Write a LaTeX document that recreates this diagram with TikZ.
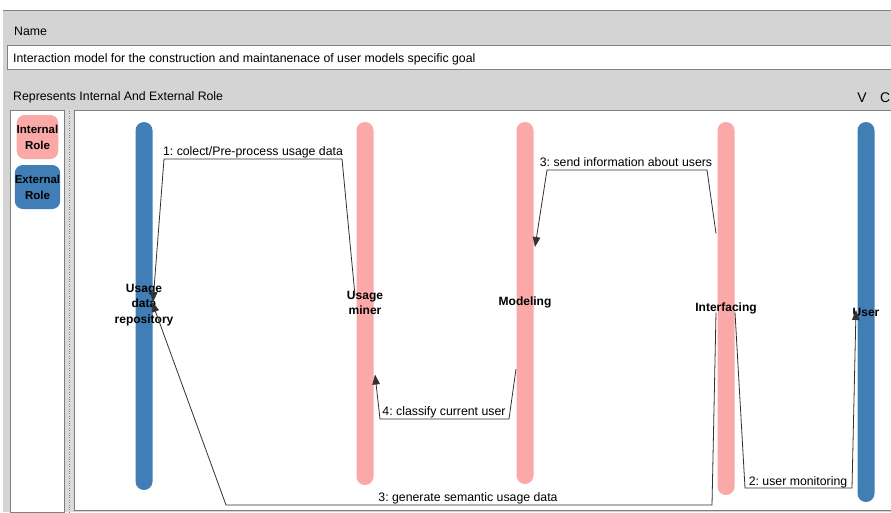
\documentclass[tikz,border=0pt]{standalone}
\usepackage{fontspec}
\setmainfont{Liberation Sans}
\usetikzlibrary{arrows.meta,calc}
\frenchspacing
\definecolor{panelgray}{RGB}{212,212,212}
\definecolor{framegray}{RGB}{128,128,128}
\definecolor{laneblue}{RGB}{64,126,181}
\definecolor{lanepink}{RGB}{250,168,168}
\definecolor{wiregray}{RGB}{50,50,50}
\tikzset{
  lane/.style={rectangle, rounded corners=8.5pt, minimum width=17pt, inner sep=0pt, draw=none},
  intlane/.style={lane, fill=lanepink},
  extlane/.style={lane, fill=laneblue},
  lanelabel/.style={font=\fontsize{12}{15.5}\selectfont\bfseries, align=center, inner sep=0pt, text=black},
  msg/.style={draw=wiregray, line width=0.8pt},
  msgarrow/.style={msg, -{Triangle[length=10pt,width=7.5pt]}, shorten >=0pt},
  msglabel/.style={font=\fontsize{12.3}{14}\selectfont, inner sep=0pt, anchor=base},
  hdr/.style={font=\fontsize{12.3}{14}\selectfont, inner sep=0pt, anchor=base west},
  legendbox/.style={rectangle, rounded corners=8pt, minimum width=41pt, minimum height=44pt, inner sep=0pt, font=\fontsize{11.5}{16}\selectfont\bfseries, align=center}
}
\begin{document}
\begin{tikzpicture}[x=1pt,y=-1pt]
\useasboundingbox (0,0) rectangle (891,512);
% background panel
\fill[white] (0,0) rectangle (891,512);
\fill[panelgray] (3,10) rectangle (891,512);
\draw[framegray, line width=1pt] (3,10) -- (891,10);
% name field
\node[hdr] (namelbl) at (14,35) {Name};
\draw[framegray, fill=white, line width=0.8pt] (7,45) rectangle (895,69);
\node[hdr] (namefield) at (13,62) {Interaction model for the construction and maintanenace of user models specific goal};
\node[hdr] (rolelbl) at (13,100) {Represents Internal And External Role};
\node[font=\fontsize{14}{16}\selectfont, anchor=base, inner sep=0pt] (vlbl) at (862,102) {V};
\node[font=\fontsize{14}{16}\selectfont, anchor=base west, inner sep=0pt] (clbl) at (880,102) {C};
% legend panel
\draw[framegray, fill=white, line width=0.8pt] (10,110) rectangle (64,512);
\fill[panelgray!85!white] (66,110) rectangle (73,512);
\draw[gray, line width=1pt, dash pattern=on 0.8pt off 1.6pt] (69.5,111) -- (69.5,512);
\node[legendbox, fill=lanepink] (intleg) at (37.5,137) {Internal\\Role};
\node[legendbox, fill=laneblue] (extleg) at (37.5,187) {External\\Role};
% main canvas
\draw[framegray, fill=white, line width=0.8pt] (74,110) rectangle (895,510);
% lanes
\node[extlane, minimum height=368pt] (repo) at (144,306) {};
\node[intlane, minimum height=363pt] (miner) at (365,303.5) {};
\node[intlane, minimum height=362pt] (model) at (525,303) {};
\node[intlane, minimum height=373pt] (iface) at (726,308.5) {};
\node[extlane, minimum height=380pt] (user) at (866,312) {};
% lane labels
\node[lanelabel] (repolbl) at (144,305) {Usage\\data\\repository};
\node[lanelabel] (minerlbl) at (365,303) {Usage\\miner};
\node[lanelabel] (modellbl) at (525,302) {Modeling};
\node[lanelabel] (ifacelbl) at (726,308) {Interfacing};
\node[lanelabel] (userlbl) at (866,312) {User};
% connector end points
\coordinate (m1s) at ($(miner.center)+(-10,-8)$);
\coordinate (m1e) at ($(repo.center)+(9,-4)$);
\coordinate (m3s) at ($(iface.center)+(-10,-75)$);
\coordinate (m3e) at ($(model.center)+(10,-56)$);
\coordinate (m4s) at ($(model.center)+(-9,66)$);
\coordinate (m4e) at ($(miner.center)+(10,71)$);
\coordinate (mgs) at ($(iface.center)+(-10,4)$);
\coordinate (mge) at ($(repo.center)+(8,-4)$);
\coordinate (m2s) at ($(iface.center)+(9,4)$);
\coordinate (m2e) at ($(user.center)+(-10,-2)$);
% connectors
\draw[msgarrow] (m1s) -- (342,159) -- (164,159) -- (m1e);
\node[msglabel] (l1) at (253,155) {1: colect/Pre-process usage data};
\draw[msgarrow] (m3s) -- (707,170) -- (547,170) -- (m3e);
\node[msglabel] (l3) at (626,166) {3: send information about users};
\draw[msgarrow] (m4s) -- (509,419) -- (380,419) -- (m4e);
\node[msglabel] (l4) at (444,415) {4: classify current user};
\draw[msgarrow] (mgs) -- (712,505) -- (226,505) -- (mge);
\node[msglabel] (lg) at (468,501) {3: generate semantic usage data};
\draw[msgarrow] (m2s) -- (745,488) -- (852,488) -- (m2e);
\node[msglabel] (l2) at (798,485) {2: user monitoring};
\end{tikzpicture}
\end{document}
